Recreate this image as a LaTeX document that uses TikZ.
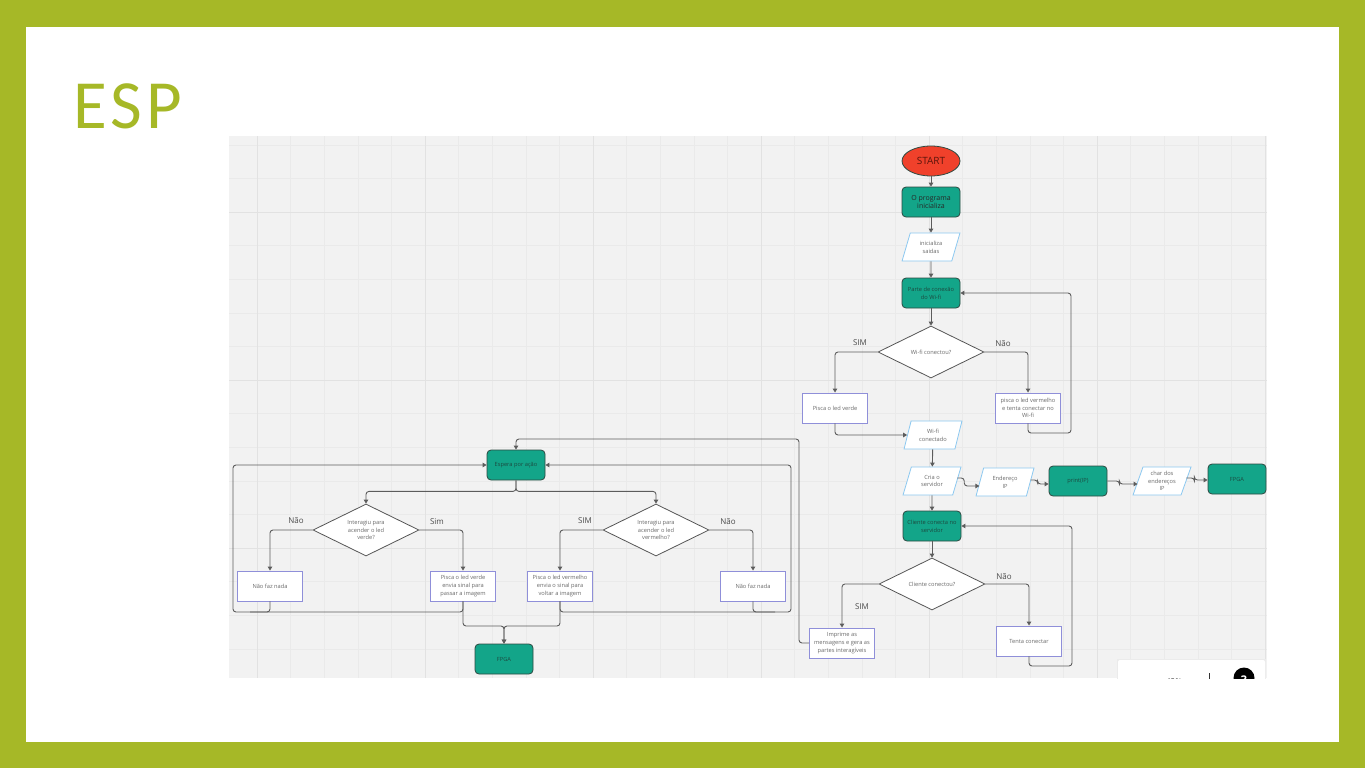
\documentclass[tikz,border=0pt]{standalone}
\usepackage{fontspec}
\setmainfont{Open Sans}
\newfontfamily\titlefont[LetterSpace=6]{Carlito}
\usetikzlibrary{shapes.geometric,arrows.meta}
\definecolor{olive}{HTML}{A6B827}
\definecolor{canvas}{HTML}{F2F2F2}
\definecolor{gminor}{HTML}{EAEAEA}
\definecolor{gmajor}{HTML}{E2E2E2}
\definecolor{tealc}{HTML}{13A589}
\definecolor{tealborder}{HTML}{2E4A42}
\definecolor{tealtext}{HTML}{1C4A40}
\definecolor{startred}{HTML}{F0412B}
\definecolor{starttext}{HTML}{5A150C}
\definecolor{purp}{HTML}{8F8FD9}
\definecolor{lblue}{HTML}{8CC8F0}
\definecolor{gtext}{HTML}{6A6A6A}
\definecolor{ltext}{HTML}{4A4A4A}
\definecolor{egray}{HTML}{5C5C5C}
\definecolor{dgray}{HTML}{555555}
\newcommand\myfs{\fontsize{5.7}{7.8}\selectfont}
\newcommand\mylbl{\fontsize{8}{9}\selectfont}
\begin{document}
\begin{tikzpicture}[x=1pt,y=-1pt,
  tealbox/.style={draw=tealborder, fill=tealc, rounded corners=4pt, minimum width=58pt, minimum height=30pt, align=center, font=\myfs, text=tealtext, line width=0.8pt, inner sep=1pt},
  proc/.style={draw=purp, fill=white, minimum width=65pt, minimum height=30pt, align=center, text=gtext, font=\myfs, line width=0.9pt, inner sep=0.5pt},
  io/.style={trapezium, trapezium left angle=70, trapezium right angle=110, trapezium stretches=true, draw=lblue, fill=white, minimum width=58pt, minimum height=28pt, align=center, text=gtext, font=\myfs, inner sep=0pt, line width=0.8pt},
  dec/.style={diamond, aspect=2, draw=dgray, fill=white, minimum width=106pt, minimum height=52pt, align=center, text=gtext, font=\myfs, inner sep=0pt, line width=0.8pt},
  lbl/.style={font=\mylbl, text=ltext},
  edge/.style={draw=egray, line width=0.9pt, rounded corners=3pt, -{Triangle[length=4pt,width=4.5pt]}},
  plain/.style={draw=egray, line width=0.9pt, rounded corners=3pt}
]
\useasboundingbox (0,0) rectangle (1365,768);
\fill[olive] (0,0) rectangle (1365,768);
\fill[white] (26,27) rectangle (1339,742);
\node[anchor=base west, inner sep=0pt, text=olive, font=\titlefont\fontsize{69}{70}\selectfont] (title) at (73,128) {ESP};
% canvas
\fill[canvas] (229,136) rectangle (1267,678);
\begin{scope}
\clip (229,136) rectangle (1267,678);
\foreach \k in {0,...,30} {\pgfmathsetmacro\xx{257+33.6*\k}\draw[gminor, line width=0.5pt] (\xx,136) -- (\xx,678);}
\foreach \k in {-2,...,13} {\pgfmathsetmacro\yy{212+33.6*\k}\draw[gminor, line width=0.5pt] (229,\yy) -- (1267,\yy);}
\foreach \k in {0,5,...,30} {\pgfmathsetmacro\xx{257+33.6*\k}\draw[gmajor, line width=0.7pt] (\xx,136) -- (\xx,678);}
\foreach \k in {0,5,10} {\pgfmathsetmacro\yy{212+33.6*\k}\draw[gmajor, line width=0.7pt] (229,\yy) -- (1267,\yy);}
\end{scope}

% right flow
\node[ellipse, draw=tealborder, fill=startred, minimum width=58pt, minimum height=30pt, inner sep=0pt, font=\fontsize{10}{12}\selectfont, text=starttext, line width=0.8pt] (start) at (931,161) {START};
\node[tealbox, font=\fontsize{7}{8.6}\selectfont, text=black!85] (init) at (931,202) {O programa\\inicializa};
\node[io] (saidas) at (931,247) {inicializa\\saidas};
\node[tealbox] (wifi) at (931,293) {Parte de conexão\\do Wi-fi};
\node[dec] (wq) at (931,352) {Wi-fi conectou?};
\node[proc] (verde) at (835,408) {Pisca o led verde};
\node[proc] (verm) at (1028,408) {pisca o led vermelho\\e tenta conectar no\\Wi-fi};
\node[io] (wcon) at (933,435) {Wi-fi\\conectado};
\node[io] (cria) at (932,481) {Cria o\\servidor};
\node[io] (ip) at (1005,482) {Endereço\\IP};
\node[tealbox] (print) at (1078,481) {print(IP)};
\node[io] (chr) at (1162,481) {char dos\\endereços\\IP};
\node[tealbox] (fpga1) at (1237,479) {FPGA};
\node[tealbox] (cli) at (932,526) {Cliente conecta no\\servidor};
\node[dec] (cq) at (932,584) {Cliente conectou?};
\node[proc] (imp) at (842,643) {Imprime as\\mensagens e gera as\\partes interagíveis};
\node[proc] (tenta) at (1029,641) {Tenta conectar};

\node[lbl] (l1) at (860,343) {SIM};
\node[lbl] (l2) at (1003,344) {Não};
\node[lbl] (l3) at (1004,577) {Não};
\node[lbl] (l4) at (862,607) {SIM};

% left flow
\node[tealbox] (esp) at (516,465) {Espera por ação};
\node[dec] (d1) at (366,530) {Interagiu para\\acender o led\\verde?};
\node[dec] (d2) at (656,530) {Interagiu para\\acender o led\\vermelho?};
\node[proc] (nada1) at (270,586) {Não faz nada};
\node[proc] (pv) at (463,586) {Pisca o led verde\\envia sinal para\\passar a imagem};
\node[proc] (pr) at (560,586) {Pisca o led vermelho\\envia o sinal para\\voltar a imagem};
\node[proc] (nada2) at (753,586) {Não faz nada};
\node[tealbox] (fpga2) at (504,659) {FPGA};

\node[lbl] (l5) at (296,521) {Não};
\node[lbl] (l6) at (437,522) {Sim};
\node[lbl] (l7) at (585,521) {SIM};
\node[lbl] (l8) at (728,522) {Não};

% connectors right
\draw[edge] (start) -- (init);
\draw[edge] (init) -- (saidas);
\draw[edge] (saidas) -- (wifi);
\draw[edge] (wifi) -- (wq);
\draw[edge] (wq.west) -| (verde.north);
\draw[edge] (wq.east) -| (verm.north);
\draw[edge] (verm.south) |- (1071,433) |- (wifi.east);
\draw[edge] (verde.south) |- (wcon.west);
\draw[edge] (wcon) -- (cria);
\draw[edge] ([yshift=3pt]cria.east) -- ++(7,0) |- ([yshift=-4pt]ip.west);
\draw[edge] ([yshift=2pt]ip.east) -- ++(7,0) |- ([yshift=-3pt]print.west);
\draw[edge] (print.east) -- ++(12,0) |- ([yshift=-3pt]chr.west);
\draw[edge] ([yshift=3pt]chr.east) -- ++(8,0) |- ([yshift=-1pt]fpga1.west);
\draw[edge] (cria) -- (cli);
\draw[edge] (cli) -- (cq);
\draw[edge] (cq.west) -| (imp.north);
\draw[edge] (cq.east) -| (tenta.north);
\draw[edge] (tenta.south) |- (1072,666) |- (cli.east);
\draw[edge] (imp.west) -| (799,439) -| (esp.north);

% connectors left
\draw[edge] (esp.south) -- ++(0,11) -| (d1.north);
\draw[edge] (esp.south) -- ++(0,11) -| (d2.north);
\draw[edge] (d1.west) -| (nada1.north);
\draw[edge] (d1.east) -| (pv.north);
\draw[edge] (d2.west) -| (pr.north);
\draw[edge] (d2.east) -| (nada2.north);
\draw[edge] (pv.south) |- (233,612) |- (esp.west);
\draw[plain] (nada1.south) |- (250,612);
\draw[edge] (pr.south) |- (791,612) |- (esp.east);
\draw[plain] (nada2.south) |- (775,612);
\draw[edge] (pv.south) |- (504,626) -- (fpga2.north);
\draw[edge] (pr.south) |- (504,626) -- (fpga2.north);

% zoom widget (cut off)
\begin{scope}
\clip (1100,640) rectangle (1267,678);
\fill[black!8] (1117,659) rectangle (1266,690);
\fill[white, rounded corners=2pt] (1118,660) rectangle (1265,690);
\node[text=black!80, font=\fontsize{8}{9}\selectfont] (zpct) at (1174,682) {42\%};
\draw[black!80, line width=1pt] (1209,673) -- (1209,690);
\fill[black] (1244,678) circle (10.5);
\node[text=white, font=\bfseries\fontsize{12}{13}\selectfont] (zq) at (1244,680) {?};
\end{scope}
\end{tikzpicture}
\end{document}
